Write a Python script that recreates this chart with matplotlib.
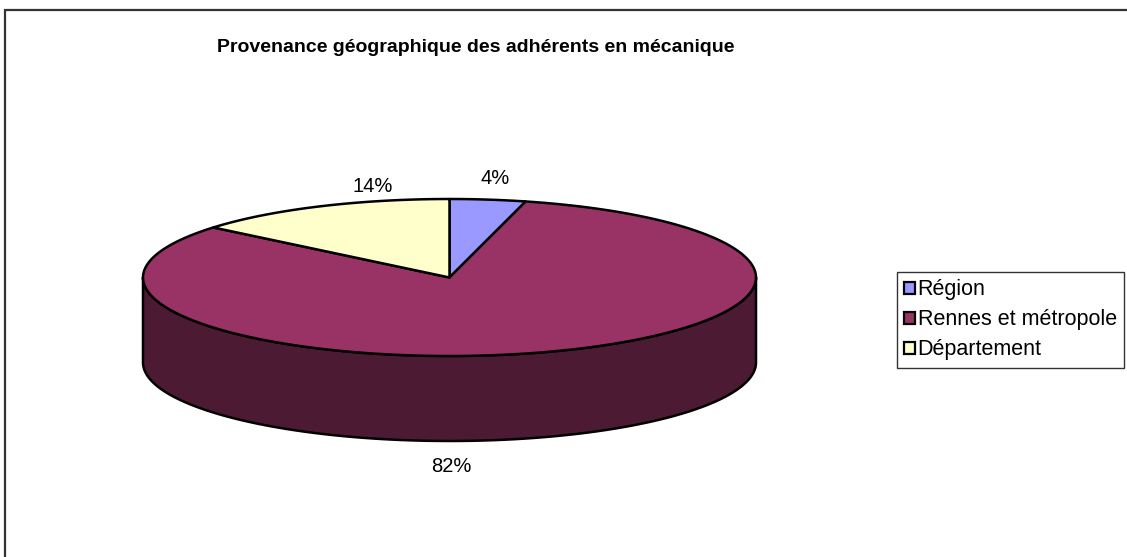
import numpy as np
import matplotlib
matplotlib.use("Agg")
from matplotlib import pyplot as plt
from matplotlib.patches import Polygon, Patch

# data
categories = ["Région", "Rennes et métropole", "Département"]
values = [4, 82, 14]
pct_labels = ["4%", "82%", "14%"]
colors = ["#9999FF", "#993366", "#FFFFCC"]
side_colors = ["#4D4D80", "#4D1A33", "#808066"]
title = "Provenance géographique des adhérents en mécanique"

# layout (pixels)
W, H = 1127, 557
cx, cy = 449.5, 277.5
rx, ry = 306.5, 78.5
depth = 85
label_xy = [(495.5, 179), (451, 466), (373, 187)]

plt.rcParams['font.family'] = ['Liberation Sans', 'DejaVu Sans']


def ell(theta_deg, dy=0.0):
    t = np.radians(theta_deg)
    return np.column_stack([cx + rx * np.sin(t), cy - ry * np.cos(t) + dy])


def main():
    fig = plt.figure(figsize=(W / 100, H / 100), dpi=100)
    ax = fig.add_axes([0, 0, 1, 1])
    ax.set_xlim(0, W)
    ax.set_ylim(H, 0)
    ax.axis('off')

    # chart frame (cut off at right and bottom)
    ax.plot([5, 5, W + 5], [H + 5, 9.5, 9.5], color="#333333", lw=1.6,
            solid_joinstyle='miter')

    frac = np.array(values, dtype=float) / np.sum(values)
    ends = np.cumsum(frac) * 360
    starts = ends - frac * 360

    # side walls (front half only)
    for t0, t1, sc in zip(starts, ends, side_colors):
        lo, hi = max(t0, 90), min(t1, 270)
        if lo >= hi:
            continue
        th = np.linspace(lo, hi, 200)
        top = ell(th)
        bot = ell(th[::-1], depth)
        ax.add_patch(Polygon(np.vstack([top, bot]), closed=True, facecolor=sc,
                             edgecolor="black", lw=1.8, joinstyle='round'))

    # top faces
    for t0, t1, c in zip(starts, ends, colors):
        th = np.linspace(t0, t1, 300)
        pts = np.vstack([[cx, cy], ell(th)])
        ax.add_patch(Polygon(pts, closed=True, facecolor=c, edgecolor="black",
                             lw=1.8, joinstyle='round'))

    for txt, (x, y) in zip(pct_labels, label_xy):
        ax.text(x, y, txt, ha='center', va='center', fontsize=14.5, color="black")

    ax.text(476, 47, title, ha='center', va='center', fontsize=14,
            fontweight='bold')

    handles = [Patch(facecolor=c, edgecolor='black', lw=1.6) for c in colors]
    leg = ax.legend(handles, categories, loc='upper left',
                    bbox_to_anchor=(897 / W, 1 - 272 / H), fontsize=15.5,
                    frameon=True, fancybox=False, handlelength=0.5,
                    handleheight=0.5, handletextpad=0.12, labelspacing=0.42,
                    borderpad=0.34, borderaxespad=0)
    leg.get_frame().set_edgecolor('black')
    leg.get_frame().set_linewidth(1.0)

    fig.savefig("out.png", dpi=100)


if __name__ == '__main__':
    main()
